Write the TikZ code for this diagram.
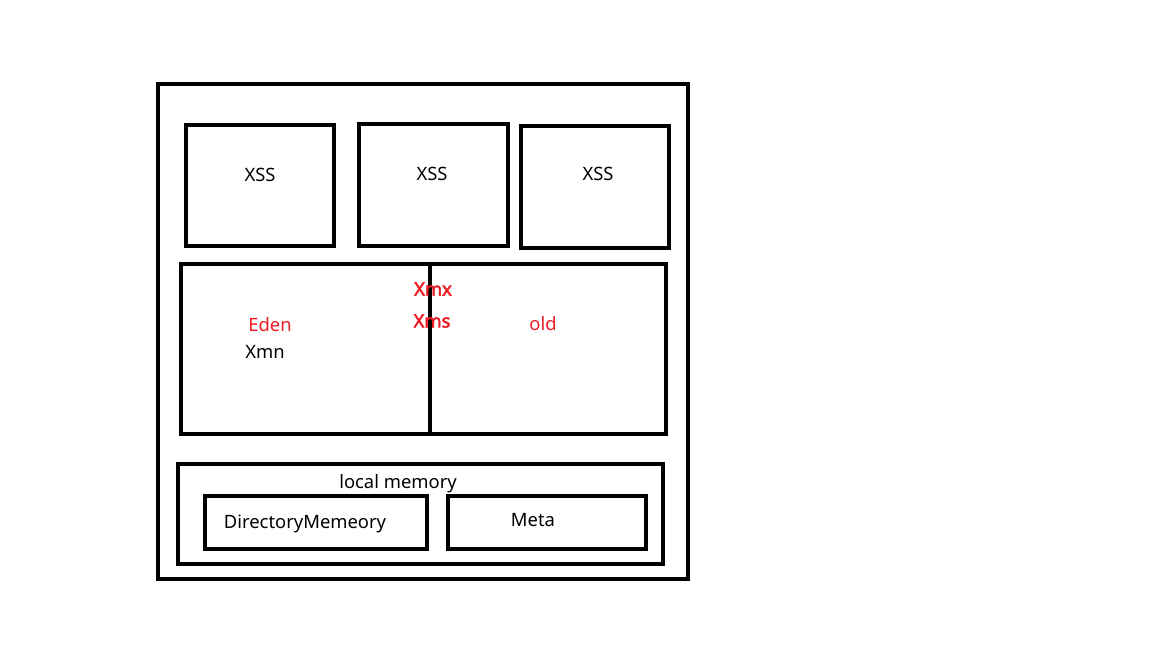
\documentclass[tikz,border=0pt]{standalone}
\usepackage{fontspec}
\setmainfont{Noto Sans}
\newfontfamily\boldfam{Noto Sans}[FakeBold=2.5]
\definecolor{pred}{RGB}{237,28,36}
\begin{document}
\begin{tikzpicture}[x=0.75pt,y=-0.75pt,
  box/.style={draw=black,line width=3.4pt,inner sep=0pt,fill=none},
  lbl/.style={inner sep=0pt,font=\fontsize{13.8pt}{16pt}\selectfont,text=black},
  redlbl/.style={lbl,text=pred},
  redbold/.style={lbl,text=pred,font=\fontsize{13.8pt}{16pt}\boldfam}]
\useasboundingbox[fill=white] (0,0) rectangle (1152,648);
\node[box,minimum width=397.5pt,minimum height=371.25pt] (outer) at (423,331.5) {};
\node[box,minimum width=111pt,minimum height=90.75pt] (xss1) at (260,185.5) {};
\node[box,minimum width=111.75pt,minimum height=91.5pt] (xss2) at (433.5,185) {};
\node[box,minimum width=111pt,minimum height=91.5pt] (xss3) at (595,187) {};
\node[lbl] (t1) at (260,175) {XSS};
\node[lbl] (t2) at (432,174) {XSS};
\node[lbl] (t3) at (598,174) {XSS};
\node[box,minimum width=363.75pt,minimum height=127.5pt] (heap) at (423.5,349) {};
\coordinate (divx) at (430,0);
\draw[line width=3.4pt] (heap.north -| divx) -- (heap.south -| divx);
\node[redlbl] (eden) at (270,325) {Eden};
\node[lbl] (xmn) at (265,352) {Xmn};
\node[redlbl] (old) at (543,324) {old};
\node[redbold] (xmx) at (433,289) {Xmx};
\node[redbold] (xms) at (432,321) {Xms};
\node[box,minimum width=363.75pt,minimum height=75pt] (local) at (420.5,514) {};
\node[lbl] (lm) at (398,484) {local memory};
\node[box,minimum width=166.5pt,minimum height=39.75pt] (dir) at (316,522.5) {};
\node[lbl] (dirt) at (305,524) {DirectoryMemeory};
\node[box,minimum width=148.5pt,minimum height=39.75pt] (meta) at (547,522.5) {};
\node[lbl] (metat) at (533,520) {Meta};
\end{tikzpicture}
\end{document}
